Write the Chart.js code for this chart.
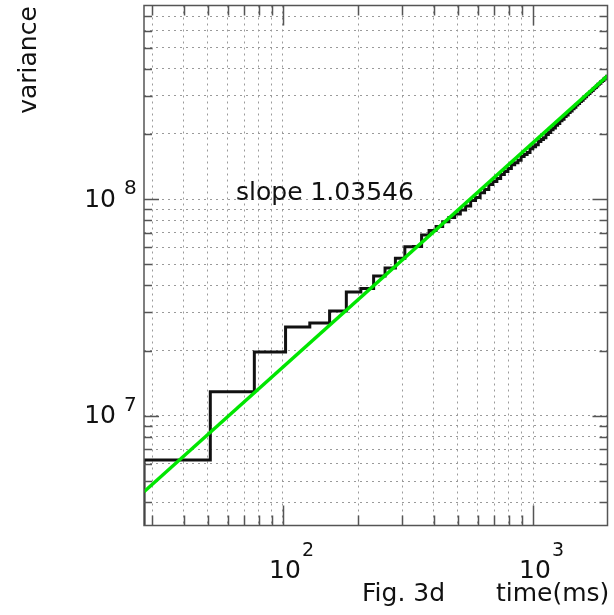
<!DOCTYPE html>
<html>
<head>
<meta charset="utf-8">
<script src="https://cdn.jsdelivr.net/npm/chart.js@4.4.1/dist/chart.umd.min.js"></script>
<style>
    html, body { margin: 0; padding: 0; background: #fff; }
    canvas { display: block; }
</style>
</head>
<body>
<canvas id="chart" width="614" height="615"></canvas>
<script>
// time bins (ms), one step of the staircase each
// the first point sits below the axis, so the curve rises along the left edge
const time = [
    20, 27.8, 51.2, 76.8, 102.4, 128, 153.6, 179.2, 204.8, 230.4, 256,
    281.6, 307.2, 332.8, 358.4, 384, 409.6, 435.2, 460.8, 486.4, 512,
    537.6, 563.2, 588.8, 614.4, 640, 665.6, 691.2, 716.8, 742.4, 768,
    793.6, 819.2, 844.8, 870.4, 896, 921.6, 947.2, 972.8, 998.4, 1024,
    1049.6, 1075.2, 1100.8, 1126.4, 1152, 1177.6, 1203.2, 1228.8, 1254.4, 1280,
    1305.6, 1331.2, 1356.8, 1382.4, 1408, 1433.6, 1459.2, 1484.8, 1510.4, 1536,
    1561.6, 1587.2, 1612.8, 1638.4, 1664, 1689.6, 1715.2, 1740.8, 1766.4, 1792,
    1817.6, 1843.2, 1868.8, 1894.4, 1920, 1945.6, 1971.2, 1996.8,
];
// measured variance for each bin
const variance = [
    2e6, 6.25e6, 1.29e7, 1.97e7, 2.57e7, 2.68e7, 3.05e7, 3.73e7, 3.87e7, 4.42e7, 4.81e7,
    5.33e7, 6.03e7, 6.05e7, 6.83e7, 7.16e7, 7.48e7, 7.87e7, 8.22e7, 8.55e7, 8.90e7,
    9.31e7, 9.87e7, 1.019e8, 1.07e8, 1.109e8, 1.167e8, 1.205e8, 1.245e8, 1.30e8, 1.342e8,
    1.385e8, 1.441e8, 1.474e8, 1.514e8, 1.574e8, 1.609e8, 1.644e8, 1.710e8, 1.745e8, 1.782e8,
    1.846e8, 1.884e8, 1.921e8, 1.986e8, 2.028e8, 2.089e8, 2.131e8, 2.193e8, 2.236e8, 2.298e8,
    2.340e8, 2.404e8, 2.446e8, 2.512e8, 2.554e8, 2.614e8, 2.656e8, 2.718e8, 2.765e8, 2.821e8,
    2.863e8, 2.925e8, 2.967e8, 3.030e8, 3.072e8, 3.135e8, 3.177e8, 3.233e8, 3.276e8, 3.332e8,
    3.389e8, 3.431e8, 3.488e8, 3.527e8, 3.587e8, 3.637e8, 3.695e8, 3.745e8,
];
// fitted power law, end points
const fitTime = [27.8, 1986];
const fitVariance = [4.46e6, 3.71e8];
const slopeLabel = `slope 1.03546`;

const xMin = 27.8;
const xMax = 1986;
const yMin = 3.118e6;
const yMax = 7.83e8;

const xTicks = [30, 40, 50, 60, 70, 80, 90, 100, 200, 300, 400, 500, 600, 700, 800, 900, 1000];
const yTicks = [
    4e6, 5e6, 6e6, 7e6, 8e6, 9e6,
    1e7, 2e7, 3e7, 4e7, 5e7, 6e7, 7e7, 8e7, 9e7,
    1e8, 2e8, 3e8, 4e8, 5e8, 6e8, 7e8,
];
const xDecades = [100, 1000];
const yDecades = [1e7, 1e8];

const FONT = `"DejaVu Sans", sans-serif`;

const isDecade = v => Math.abs(Math.log10(v) - Math.round(Math.log10(v))) < 1e-9;

const framePlugin = {
    id: `frame`,
    afterDatasetsDraw(chart) {
        const { ctx, chartArea: a, scales: { x, y } } = chart;
        ctx.save();
        ctx.strokeStyle = `#555`;
        ctx.lineWidth = 1.5;

        // inward ticks on all four sides
        ctx.beginPath();
        xTicks.forEach(v => {
            const px = Math.round(x.getPixelForValue(v)) + 0.5;
            const len = isDecade(v) ? 20 : 10;
            ctx.moveTo(px, a.bottom);
            ctx.lineTo(px, a.bottom - len);
            ctx.moveTo(px, a.top);
            ctx.lineTo(px, a.top + len);
        });
        yTicks.forEach(v => {
            const py = Math.round(y.getPixelForValue(v)) + 0.5;
            const len = isDecade(v) ? 15 : 8;
            ctx.moveTo(a.left, py);
            ctx.lineTo(a.left + len, py);
            ctx.moveTo(a.right, py);
            ctx.lineTo(a.right - len, py);
        });
        ctx.stroke();
        ctx.strokeRect(a.left, a.top, a.right - a.left, a.bottom - a.top);

        ctx.fillStyle = `#111`;
        // x decade labels, 10 with exponent
        xDecades.forEach(v => {
            const px = x.getPixelForValue(v);
            ctx.font = `25px ${FONT}`;
            ctx.textAlign = `center`;
            ctx.textBaseline = `alphabetic`;
            ctx.fillText(`10`, px + 2, a.bottom + 52);
            ctx.font = `19px ${FONT}`;
            ctx.textAlign = `left`;
            ctx.fillText(String(Math.round(Math.log10(v))), px + 19, a.bottom + 30);
        });
        // y decade labels
        yDecades.forEach(v => {
            const py = y.getPixelForValue(v);
            ctx.font = `25px ${FONT}`;
            ctx.textAlign = `right`;
            ctx.textBaseline = `middle`;
            ctx.fillText(`10`, 116, py + 1);
            ctx.font = `20px ${FONT}`;
            ctx.textAlign = `left`;
            ctx.textBaseline = `alphabetic`;
            ctx.fillText(String(Math.round(Math.log10(v))), 124, py - 5);
        });

        ctx.font = `25px ${FONT}`;
        ctx.textAlign = `left`;
        ctx.textBaseline = `alphabetic`;
        ctx.fillText(`Fig. 3d`, 362, 601);
        ctx.fillText(`time(ms)`, 496, 601);
        ctx.fillText(slopeLabel, 236, 200);

        // rotated y title
        ctx.save();
        ctx.translate(36, 60);
        ctx.rotate(-Math.PI / 2);
        ctx.textAlign = `center`;
        ctx.fillText(`variance`, 0, 0);
        ctx.restore();

        ctx.restore();
    },
};

const gridStyle = {
    color: `#9a9a9a`,
    lineWidth: 1,
    drawTicks: false,
};

new Chart(document.getElementById(`chart`), {
    type: `line`,
    data: {
        datasets: [
            {
                label: `fit`,
                data: fitTime.map((t, i) => ({ x: t, y: fitVariance[i] })),
                borderColor: `#00e600`,
                borderWidth: 3.5,
                pointRadius: 0,
                order: 0,
            },
            {
                label: `variance`,
                data: time.map((t, i) => ({ x: t, y: variance[i] })),
                borderColor: `#111`,
                borderWidth: 3,
                pointRadius: 0,
                stepped: true,
                order: 1,
            },
        ],
    },
    options: {
        responsive: false,
        animation: false,
        devicePixelRatio: 1,
        layout: {
            padding: { left: 144, right: 6.5, top: 5.5, bottom: 89.5 },
        },
        plugins: {
            legend: { display: false },
            tooltip: { enabled: false },
        },
        scales: {
            x: {
                type: `logarithmic`,
                min: xMin,
                max: xMax,
                grid: gridStyle,
                border: { display: false, dash: [2, 4] },
                ticks: { display: false },
                afterBuildTicks: scale => {
                    scale.ticks = xTicks.map(value => ({ value }));
                },
            },
            y: {
                type: `logarithmic`,
                min: yMin,
                max: yMax,
                grid: gridStyle,
                border: { display: false, dash: [2, 4] },
                ticks: { display: false },
                afterBuildTicks: scale => {
                    scale.ticks = yTicks.map(value => ({ value }));
                },
            },
        },
    },
    plugins: [framePlugin],
});
</script>
</body>
</html>
